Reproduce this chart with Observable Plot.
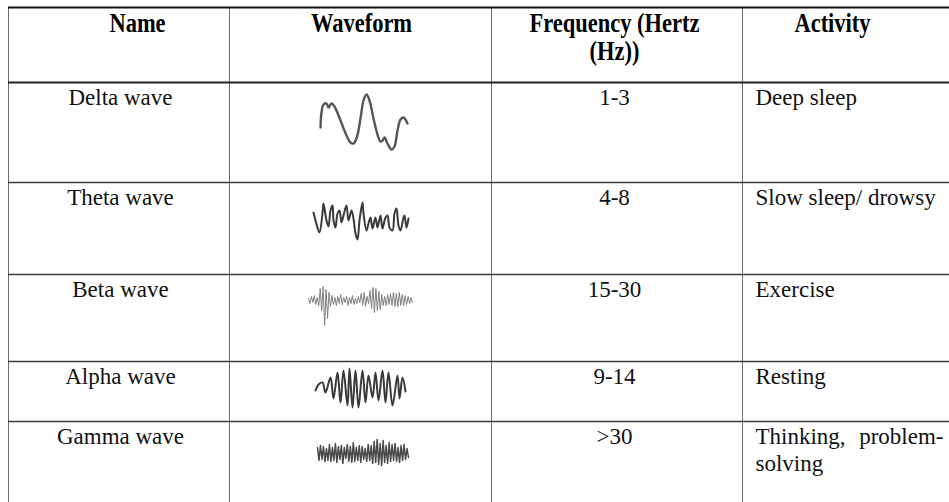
<!DOCTYPE html>
<html><head><meta charset="utf-8">
<script src="https://cdn.jsdelivr.net/npm/d3@7"></script>
<script src="https://cdn.jsdelivr.net/npm/@observablehq/plot@0.6"></script>
<style>html,body{margin:0;padding:0;background:#fff;} svg{display:block;}</style>
</head><body><div id="chart"></div>
<script>
// ---------- table content ----------
const headers = ["Name", "Waveform", "Frequency (Hertz\n(Hz))", "Activity"];
const names = ["Delta wave", "Theta wave", "Beta wave", "Alpha wave", "Gamma wave"];
const frequencies = ["1-3", "4-8", "15-30", "9-14", ">30"];
const activities = ["Deep sleep", "Slow sleep/ drowsy", "Exercise", "Resting", "Thinking, problem-solving"];

// ---------- waveform traces (t = time offset, v = amplitude) ----------
const deltaT = [2,3,5,8,10,13,16,22,28,32,35,38,42,45,48,51,55,59,62,64,66,69,73,76,79,82,85,89];
const deltaV = [-5,10,18,19,15,19,16,2,-13,-20,-21,-16,4,22,28,22,4,-12,-19,-18,-15,-21,-27,-24,-8,3,5,-1];
const thetaT = [0,4,6,9,10,13,15,17,19,20,22,24,26,28,30,33,35,38,40,42,44,46,49,50,53,55,57,59,62,64,67,69,72,74,76,79,81,83,85,87,90,91,93,95];
const thetaV = [8,-7,-12,7,17,0,-6,10,15,0,-7,7,10,-2,5,15,0,10,2,-13,-19,0,18,7,-10,-3,3,-8,3,-7,5,-8,3,5,-7,-10,7,12,-5,-10,3,5,-7,2];
const betaV = [2,-3,4,-2,5,-4,3,-5, 12,-10,14,-25,11,-18,8,-6,
  5,-4,3,-5,4,-3,6,-4,3,-2,4,-5,3,-3,5,-4,2,-3,4,-2,7,-5,8,-6,4,-3,
  10,-8,13,-12,12,-10,9,-9,6,-5,
  4,-5,6,-4,7,-5,8,-6,7,-6,8,-5,6,-5,5,-4,4,-3,3,-2];
const alphaT = [0,3,7,10,15,18,22,25,28,32,34,37,40,43,47,50,53,57,60,63,67,70,73,77,82,84,87,90];
const alphaV = [-2,4,6,-4,11,-10,16,-14,18,-17,20,-19,18,-19,18,-14,13,-9,16,-12,18,-14,16,-17,13,-10,11,-3];
const gammaV = [6,-7,8,-6,7,-8,5,-7,9,-8,6,-7,10,-9,7,-6,8,-10,6,-5,9,-8,7,-9,11,-8,6,-7,8,-9,7,-6,5,-8,9,-7,8,-10,12,-9,14,-11,10,-12,13,-9,8,-10,11,-8,9,-7,10,-8,6,-9,8,-7,9,-6,5,-4];

// ---------- layout ----------
const W = 949, H = 502;
const colEdges = [8, 229, 491, 742];
const rowEdges = [7, 82, 182, 274, 361, 421];
const headerX = [137, 361, 614, 832];
const nameX = 120, freqX = 614, actX = 755, actWidth = 188;
const fsBody = 23, fsHead = 22.5, headStretch = 1.2;
const serif = "Liberation Serif, Times New Roman, serif";
const waveX0 = [318, 313, 308, 315, 317];
const waveY0 = [122, 220, 300, 388, 453];
const betaSpan = 104, gammaSpan = 91;

const waves = [
  {t: deltaT, v: deltaV, stroke: "#555", sw: 2.4, curve: "catmull-rom"},
  {t: thetaT, v: thetaV, stroke: "#3a3a3a", sw: 2.0, curve: "catmull-rom"},
  {t: betaV.map((_, i) => i * betaSpan / (betaV.length - 1)), v: betaV, stroke: "#808080", sw: 1.0, curve: "linear"},
  {t: alphaT, v: alphaV, stroke: "#3a3a3a", sw: 2.0, curve: "catmull-rom"},
  {t: gammaV.map((_, i) => i * gammaSpan / (gammaV.length - 1)), v: gammaV, stroke: "#4a4a4a", sw: 1.5, curve: "linear"}
];

// ---------- justified wrapping for the Activity column ----------
const ctx = document.createElement("canvas").getContext("2d");
function layoutText(text, x0, width, font) {
  ctx.font = font;
  const sp = ctx.measureText(" ").width;
  const pieces = [];
  text.split(" ").forEach((w, i) => w.split(/(?<=-)(?=.)/).forEach((p, j) => pieces.push({str: p, space: j === 0 && i > 0})));
  const lw = arr => arr.reduce((s, p, k) => s + (k > 0 && p.space ? sp : 0) + ctx.measureText(p.str).width, 0);
  const lines = []; let cur = [];
  for (const p of pieces) {
    const trial = cur.concat([p]);
    if (cur.length && lw(trial) > width) { lines.push(cur); cur = [{...p, space: false}]; }
    else cur = trial;
  }
  lines.push(cur);
  const out = [];
  lines.forEach((line, li) => {
    const last = li === lines.length - 1;
    const gaps = line.filter((p, k) => k > 0 && p.space).length;
    const extra = (!last && gaps > 0) ? (width - lw(line)) / gaps : 0;
    let x = x0;
    line.forEach((p, k) => {
      if (k > 0 && p.space) x += sp + extra;
      out.push({line: li, x, str: p.str});
      x += ctx.measureText(p.str).width;
    });
  });
  return out;
}

const lineH = 27;
const headCells = headers.map((h, i) => ({text: h, x: headerX[i], y: rowEdges[0] + 4}));
const nameCells = names.map((n, i) => ({text: n, x: nameX, y: rowEdges[i + 1] + 22}));
const freqCells = frequencies.map((f, i) => ({text: f, x: freqX, y: rowEdges[i + 1] + 22}));
const actCells = activities.flatMap((a, i) =>
  layoutText(a, actX, actWidth, `${fsBody}px Liberation Serif`).map(p => ({text: p.str, x: p.x, y: rowEdges[i + 1] + 22 + p.line * lineH})));

const wavePts = waves.map((w, i) => w.t.map((t, k) => ({x: waveX0[i] + t, y: waveY0[i] - w.v[k]})));

const marks = [
  Plot.ruleX(colEdges, {x: d => d, y1: rowEdges[0], y2: H, stroke: "#6a6a6a", strokeWidth: 1}),
  Plot.ruleY(rowEdges.slice(2), {y: d => d, x1: colEdges[0], x2: W, stroke: "#3c3c3c", strokeWidth: 1.6}),
  Plot.ruleY([rowEdges[1]], {y: d => d, x1: colEdges[0], x2: W, stroke: "#222", strokeWidth: 1.8}),
  Plot.ruleY([rowEdges[0]], {y: d => d, x1: colEdges[0], x2: W, stroke: "#111", strokeWidth: 2.2}),
  ...wavePts.map((pts, i) => Plot.line(pts, {x: "x", y: "y", stroke: waves[i].stroke, strokeWidth: waves[i].sw, curve: waves[i].curve, strokeLinejoin: "round", strokeLinecap: "round"})),
  Plot.text(headCells, {x: "x", y: "y", text: "text", fontSize: fsHead, fontWeight: "bold", fontFamily: serif, fill: "#000", lineAnchor: "top", lineHeight: 1.05, textAnchor: "middle"}),
  Plot.text(nameCells, {x: "x", y: "y", text: "text", fontSize: fsBody, fontFamily: serif, fill: "#111", lineAnchor: "bottom", textAnchor: "middle"}),
  Plot.text(freqCells, {x: "x", y: "y", text: "text", fontSize: fsBody, fontFamily: serif, fill: "#111", lineAnchor: "bottom", textAnchor: "middle"}),
  Plot.text(actCells, {x: "x", y: "y", text: "text", fontSize: fsBody, fontFamily: serif, fill: "#111", lineAnchor: "bottom", textAnchor: "start"})
];

const chart = Plot.plot({
  width: W, height: H, margin: 0,
  x: {domain: [0, W], range: [0, W], axis: null},
  y: {domain: [0, H], range: [0, H], axis: null},
  style: {background: "#fff", overflow: "hidden"},
  marks
});
// header type in the reference is a tall, condensed bold serif: stretch it vertically
chart.querySelectorAll('g[font-weight="bold"] text').forEach(el => {
  const t = el.getAttribute("transform") || "";
  el.setAttribute("transform", `${t} scale(1,${headStretch})`);
});
document.getElementById("chart").append(chart);
</script></body></html>
